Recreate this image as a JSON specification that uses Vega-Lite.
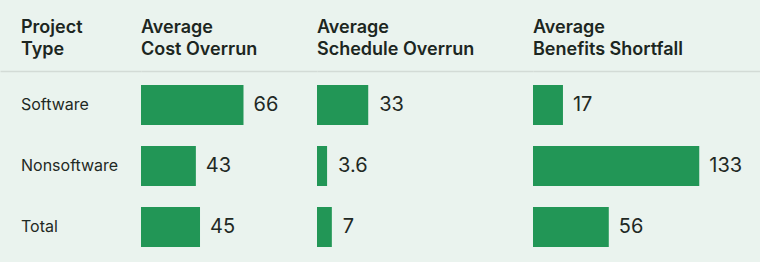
{
  "$schema": "https://vega.github.io/schema/vega-lite/v6.json",
  "background": "#eaf3ee",
  "padding": {"left": 0, "top": 19, "right": 0, "bottom": 0},
  "spacing": 0,
  "bounds": "flush",
  "datasets": {
    "rows": [
      {"type": "Software", "cost": 66, "schedule": 33, "benefits": 17},
      {"type": "Nonsoftware", "cost": 43, "schedule": 3.6, "benefits": 133},
      {"type": "Total", "cost": 45, "schedule": 7, "benefits": 56}
    ]
  },
  "config": {
    "view": {"stroke": null},
    "font": "Inter",
    "title": {"anchor": "start", "frame": "group", "fontSize": 18, "fontWeight": 600, "color": "#1c2621", "lineHeight": 22, "offset": 12, "font": "Inter"},
    "axisX": {"orient": "top", "labels": false, "ticks": false, "grid": false, "domain": true, "domainColor": "#d3dbd6", "domainWidth": 1.5, "title": null}
  },
  "hconcat": [
    {
      "width": 141,
      "height": 191,
      "title": {"text": ["Project", "Type"], "dx": 21},
      "data": {"name": "rows"},
      "mark": {"type": "text", "align": "left", "baseline": "middle", "dx": 21, "fontSize": 16, "color": "#1f2924"},
      "encoding": {
        "x": {"datum": 0, "type": "quantitative", "scale": {"domain": [0, 1], "nice": false}},
        "y": {"field": "type", "type": "nominal", "axis": null, "scale": {"type": "point", "padding": 0, "domain": ["Software", "Nonsoftware", "Total"], "range": [34, 156]}},
        "text": {"field": "type"}
      }
    },
    {
      "width": 176,
      "height": 191,
      "title": {"text": ["Average", "Cost Overrun"]},
      "data": {"name": "rows"},
      "encoding": {
        "y": {"field": "type", "type": "nominal", "axis": null, "scale": {"type": "point", "padding": 0, "domain": ["Software", "Nonsoftware", "Total"], "range": [34, 156]}}
      },
      "layer": [
        {
          "mark": {"type": "bar", "size": 40, "color": "#229656"},
          "encoding": {
            "x": {"field": "cost", "type": "quantitative", "scale": {"domain": [16.5, 101.5], "nice": false, "zero": false}},
            "x2": {"datum": 16.5}
          }
        },
        {
          "mark": {"type": "text", "align": "left", "baseline": "middle", "dx": 10, "fontSize": 20, "color": "#1f2924"},
          "encoding": {
            "x": {"field": "cost", "type": "quantitative"},
            "text": {"field": "cost"}
          }
        }
      ]
    },
    {
      "width": 216,
      "height": 191,
      "title": {"text": ["Average", "Schedule Overrun"]},
      "data": {"name": "rows"},
      "encoding": {
        "y": {"field": "type", "type": "nominal", "axis": null, "scale": {"type": "point", "padding": 0, "domain": ["Software", "Nonsoftware", "Total"], "range": [34, 156]}}
      },
      "layer": [
        {
          "mark": {"type": "bar", "size": 40, "color": "#229656"},
          "encoding": {
            "x": {"field": "schedule", "type": "quantitative", "scale": {"domain": [-3.6, 150.7], "nice": false, "zero": false}},
            "x2": {"datum": -3.6}
          }
        },
        {
          "mark": {"type": "text", "align": "left", "baseline": "middle", "dx": 11, "fontSize": 20, "color": "#1f2924"},
          "encoding": {
            "x": {"field": "schedule", "type": "quantitative"},
            "text": {"field": "schedule"}
          }
        }
      ]
    },
    {
      "width": 227,
      "height": 191,
      "title": {"text": ["Average", "Benefits Shortfall"]},
      "data": {"name": "rows"},
      "encoding": {
        "y": {"field": "type", "type": "nominal", "axis": null, "scale": {"type": "point", "padding": 0, "domain": ["Software", "Nonsoftware", "Total"], "range": [34, 156]}}
      },
      "layer": [
        {
          "mark": {"type": "bar", "size": 40, "color": "#229656"},
          "encoding": {
            "x": {"field": "benefits", "type": "quantitative", "scale": {"domain": [-8.5, 184.7], "nice": false, "zero": false}},
            "x2": {"datum": -8.5}
          }
        },
        {
          "mark": {"type": "text", "align": "left", "baseline": "middle", "dx": 10, "fontSize": 20, "color": "#1f2924"},
          "encoding": {
            "x": {"field": "benefits", "type": "quantitative"},
            "text": {"field": "benefits"}
          }
        }
      ]
    }
  ]
}
